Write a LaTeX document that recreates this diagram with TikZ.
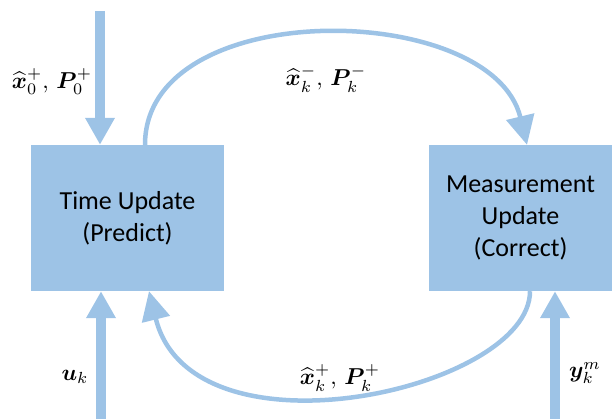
\documentclass[tikz,border=0pt]{standalone}
\usepackage{amsmath,bm}
\usepackage{fontspec}
\newfontfamily\calib{Carlito}
\usetikzlibrary{arrows.meta}
\definecolor{kblue}{RGB}{157,195,230}
\newcommand{\mlab}[1]{\scalebox{2.3}{$#1$}}
\tikzset{
  blockbox/.style={fill=kblue,draw=none,minimum width=#1,minimum height=146pt,inner sep=0pt,
    font=\calib\fontsize{26}{32}\selectfont,align=center,text=black},
  fatarrow/.style={draw=kblue,line width=9.5pt,-{Triangle[width=28pt,length=27pt]}},
  curvearrow/.style={draw=kblue,line width=4.5pt,-{Triangle[width=28pt,length=29pt]}},
  mlabel/.style={inner sep=0pt}
}
\begin{document}
\begin{tikzpicture}[x=1pt,y=-1pt]
\useasboundingbox (0,0) rectangle (612,419);
\node[blockbox=193pt] (tu) at (127.5,218) {Time Update\\(Predict)};
\node[blockbox=183pt] (mu) at (520.5,218) {Measurement\\Update\\(Correct)};
\coordinate (in0) at (100,11);
\coordinate (inu) at (101,419);
\coordinate (iny) at (555,419);
\draw[fatarrow] (in0) -- (in0 |- tu.north);
\draw[fatarrow] (inu) -- (inu |- tu.south);
\draw[fatarrow] (iny) -- (iny |- mu.south);
\coordinate (ts) at (145,0);
\coordinate (te) at (527,0);
\coordinate (bs) at (530,0);
\coordinate (be) at (149,0);
\draw[curvearrow] (ts |- tu.north) .. controls (145,-5) and (492,0) .. (te |- mu.north);
\draw[curvearrow] (bs |- mu.south) .. controls (530,390) and (192,465) .. (be |- tu.south);
\node[mlabel] (l0) at (52,82) {\mlab{\widehat{\bm{x}}_0^+,\,\bm{P}_0^+}};
\node[mlabel] (lm) at (326,79) {\mlab{\widehat{\bm{x}}_k^-,\,\bm{P}_k^-}};
\node[mlabel] (lp) at (340,378) {\mlab{\widehat{\bm{x}}_k^+,\,\bm{P}_k^+}};
\node[mlabel] (lu) at (75,377) {\mlab{\bm{u}_k}};
\node[mlabel] (ly) at (585,373) {\mlab{\bm{y}_k^m}};
\end{tikzpicture}
\end{document}
